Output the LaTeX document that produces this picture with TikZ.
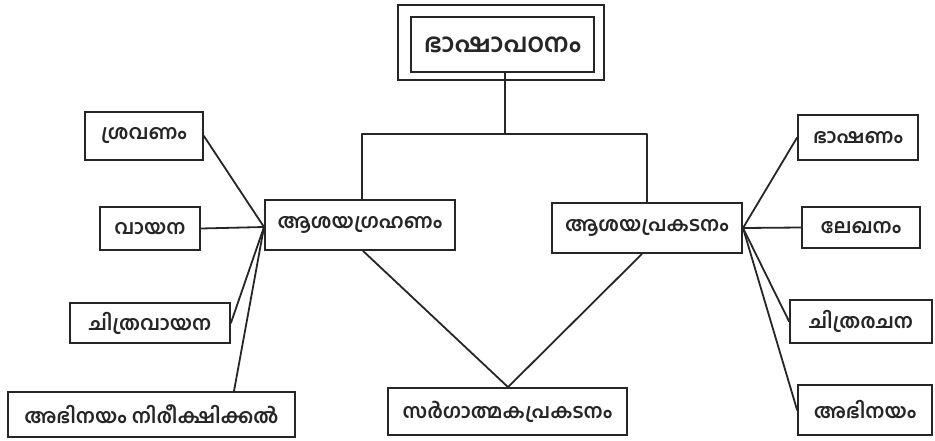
\documentclass[tikz,border=0pt]{standalone}
\usepackage{fontspec}
\newfontfamily\mal[Script=Malayalam]{Hind Kochi}
\begin{document}
\begin{tikzpicture}[x=1pt,y=-1pt,
  box/.style={draw=black!85, line width=1.8pt, fill=white, inner sep=0pt,
    font=\mal\fontsize{20}{24}\selectfont\bfseries, text=black!85},
  link/.style={draw=black!85, line width=1.8pt, line cap=round, line join=round}]
\useasboundingbox[fill=white] (0,0) rectangle (935,440);

% title with double frame
\node[box, minimum width=183pt, minimum height=55pt,
  font=\mal\fontsize{26}{30}\selectfont\bfseries] (top) at (502.5,44.5) {ഭാഷാപഠനം};
\draw[draw=black!85, line width=1.6pt] (398,5) rectangle (604,80);

% the two main branches
\node[box, minimum width=190pt, minimum height=50pt] (grah) at (360,225) {ആശയഗ്രഹണം};
\node[box, minimum width=190pt, minimum height=50pt] (prak) at (647,228) {ആശയപ്രകടനം};
\node[box, minimum width=239pt, minimum height=47pt] (sarg) at (507.5,411.5) {സർഗാത്മകപ്രകടനം};

% left leaves
\node[box, minimum width=118pt, minimum height=48pt] (sr) at (144,136) {ശ്രവണം};
\node[box, minimum width=100pt, minimum height=43pt] (va) at (150,228.5) {വായന};
\node[box, minimum width=160pt, minimum height=40pt] (cv) at (150,323) {ചിത്രവായന};
\node[box, minimum width=287pt, minimum height=45pt] (ab) at (151.5,414.5) {അഭിനയം നിരീക്ഷിക്കൽ};

% right leaves
\node[box, minimum width=120pt, minimum height=45pt] (bh) at (858,137.5) {ഭാഷണം};
\node[box, minimum width=118pt, minimum height=41pt] (le) at (861,227.5) {ലേഖനം};
\node[box, minimum width=142pt, minimum height=43pt] (cr) at (861,321.5) {ചിത്രരചന};
\node[box, minimum width=134pt, minimum height=50pt] (ar) at (865,410) {അഭിനയം};

% hubs on the side edges of the branch boxes
\coordinate (lh) at (264,227);
\coordinate (rh) at (743,228);
\coordinate (bus) at (505,134);

% tree from the title
\draw[link] (top.south -| bus) -- (bus);
\draw[link] (grah.north -| 362,0) |- (bus) -| (prak.north -| 647,0);

% left fan
\draw[link] (sr.east) -- (lh);
\draw[link] (va.east) -- (lh);
\draw[link] (cv.east) -- (lh);
\draw[link] (ab.north -| 234,0) -- (lh);

% right fan
\draw[link] (rh) -- (bh.west);
\draw[link] (rh) -- (le.west);
\draw[link] (rh) -- (cr.west);
\draw[link] (rh) -- (ar.west);

% convergence on the creative node
\draw[link] (grah.south -| 363,0) -- (sarg.north -| 508,0) -- (prak.south -| 642,0);
\end{tikzpicture}
\end{document}
